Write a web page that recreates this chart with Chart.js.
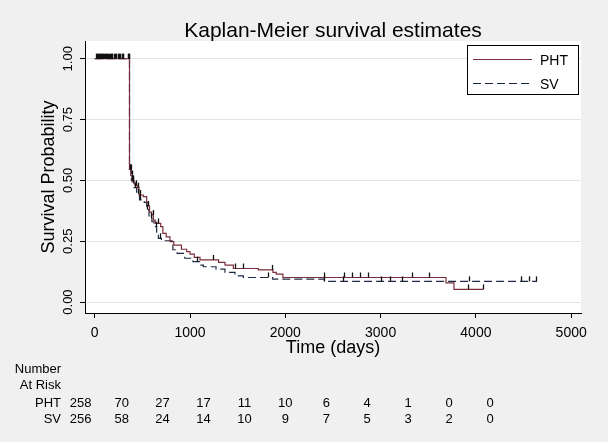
<!DOCTYPE html>
<html>
<head>
<meta charset="utf-8">
<script src="https://cdn.jsdelivr.net/npm/chart.js@4.4.1/dist/chart.umd.min.js"></script>
<style>
  html, body { margin: 0; padding: 0; background: #f0f0f0; }
</style>
</head>
<body>
<canvas id="km" width="608" height="442"></canvas>
<script>
// Kaplan-Meier steps: time (days) and survival after that time
const phtTimes = [0, 365, 378, 392, 420, 445, 465, 510, 545, 560, 575, 598, 615, 635, 692, 715, 750, 790, 830, 910, 965, 1000, 1045, 1105, 1300, 1367, 1455, 1717, 1870, 1905, 1975, 3686, 3770, 4078];
const phtSurv = [1.0, 0.545, 0.52, 0.494, 0.48, 0.47, 0.44, 0.433, 0.41, 0.395, 0.37, 0.358, 0.337, 0.323, 0.31, 0.282, 0.268, 0.248, 0.234, 0.217, 0.207, 0.197, 0.184, 0.173, 0.163, 0.152, 0.138, 0.132, 0.122, 0.115, 0.101, 0.079, 0.052, 0.052];

const svTimes = [0, 365, 385, 410, 440, 470, 520, 545, 570, 600, 622, 650, 668, 700, 820, 865, 945, 1030, 1100, 1140, 1273, 1367, 1472, 1560, 1868, 2409, 4640];
const svSurv = [1.0, 0.545, 0.5, 0.47, 0.445, 0.42, 0.41, 0.38, 0.345, 0.33, 0.31, 0.275, 0.262, 0.252, 0.215, 0.2, 0.18, 0.166, 0.152, 0.145, 0.135, 0.122, 0.108, 0.101, 0.094, 0.085, 0.085];

// censoring times
const phtCensor = [15, 25, 40, 55, 70, 85, 100, 115, 130, 145, 170, 180, 215, 225, 255, 265, 290, 300, 345, 360,
  372, 388, 400, 430, 452, 470, 560, 612, 660, 1245, 1472, 1553, 1860, 2409, 2619, 2700, 2787, 2871, 3326, 3511, 3920, 4078];
const svCensor = [20, 35, 50, 62, 78, 92, 108, 122, 138, 165, 175, 185, 205, 220, 248, 260, 285, 295, 350, 362,
  370, 382, 395, 405, 425, 455, 480, 548, 590, 640, 690, 1077, 1822, 2409, 2602, 3001, 3098, 3221, 3927, 4470, 4560, 4631];

const xTickValues = [0, 1000, 2000, 3000, 4000, 5000];
const yTickValues = [0, 0.25, 0.5, 0.75, 1];
const yTickLabels = ['0.00', '0.25', '0.50', '0.75', '1.00'];

// number at risk
const atRiskTimes = [0, 500, 1000, 1500, 2000, 2500, 3000, 3500, 4000, 4500, 5000];
const phtAtRisk = [258, 70, 27, 17, 11, 10, 6, 4, 1, 0, 0];
const svAtRisk = [256, 58, 24, 14, 10, 9, 7, 5, 3, 2, 0];

const PHT_COLOR = '#7a2e3b';
const SV_COLOR = '#1b2a40';
const FONT = '"Liberation Sans", Arial, sans-serif';

function toPoints(times, surv) {
  return times.map((t, i) => ({ x: t, y: surv[i] }));
}

function survAt(times, surv, t) {
  let s = surv[0];
  for (let i = 0; i < times.length; i++) {
    if (times[i] <= t) s = surv[i];
  }
  return s;
}

function txt(ctx, s, x, y, size, align, base, rot) {
  ctx.save();
  ctx.translate(x, y);
  if (rot) ctx.rotate(rot);
  ctx.font = size + 'px ' + FONT;
  ctx.textAlign = align;
  ctx.textBaseline = base;
  ctx.fillStyle = '#000';
  ctx.fillText(s, 0, 0);
  ctx.restore();
}

const decor = {
  id: 'decor',
  beforeDraw(chart) {
    const { ctx, chartArea: a } = chart;
    ctx.save();
    ctx.fillStyle = '#f0f0f0';
    ctx.fillRect(0, 0, chart.width, chart.height);
    ctx.fillStyle = '#ffffff';
    ctx.fillRect(a.left, a.top, a.right - a.left, a.bottom - a.top);
    ctx.restore();
  },
  afterDatasetsDraw(chart) {
    const { ctx, scales: { x, y } } = chart;
    const groups = [[phtTimes, phtSurv, phtCensor], [svTimes, svSurv, svCensor]];
    ctx.save();
    ctx.strokeStyle = '#111';
    ctx.lineWidth = 1.3;
    groups.forEach(([times, surv, cens]) => {
      cens.forEach(t => {
        const px = Math.round(x.getPixelForValue(t)) + 0.5;
        const py = y.getPixelForValue(survAt(times, surv, t));
        ctx.beginPath();
        ctx.moveTo(px, py);
        ctx.lineTo(px, py - 5);
        ctx.stroke();
      });
    });
    ctx.restore();
  },
  afterDraw(chart) {
    const { ctx, chartArea: a, scales: { x, y } } = chart;
    const cx = (a.left + a.right) / 2;
    txt(ctx, 'Kaplan-Meier survival estimates', cx, 36.5, 21, 'center', 'alphabetic');

    yTickValues.forEach((v, i) => {
      txt(ctx, yTickLabels[i], 72, y.getPixelForValue(v), 13, 'center', 'alphabetic', -Math.PI / 2);
    });
    txt(ctx, 'Survival Probability', 54, (a.top + a.bottom) / 2, 18, 'center', 'alphabetic', -Math.PI / 2);

    xTickValues.forEach(v => {
      txt(ctx, String(v), x.getPixelForValue(v), 336.5, 14, 'center', 'alphabetic');
    });
    txt(ctx, 'Time (days)', cx, 352.5, 18, 'center', 'alphabetic');

    // legend
    const lx = 467, ly = 45, lw = 111, lh = 49;
    ctx.save();
    ctx.fillStyle = '#fff';
    ctx.fillRect(lx, ly, lw, lh);
    ctx.strokeStyle = '#000';
    ctx.lineWidth = 1;
    ctx.strokeRect(lx + 0.5, ly + 0.5, lw, lh);
    chart.data.datasets.forEach((ds, i) => {
      const yy = ly + 14.5 + i * 24;
      ctx.strokeStyle = ds.borderColor;
      ctx.lineWidth = 1;
      ctx.setLineDash(ds.borderDash || []);
      ctx.beginPath();
      ctx.moveTo(lx + 6, yy);
      ctx.lineTo(lx + 65, yy);
      ctx.stroke();
      ctx.setLineDash([]);
      txt(ctx, ds.label, lx + 73, yy + 5, 14, 'left', 'alphabetic');
    });
    ctx.restore();

    // number at risk table
    txt(ctx, 'Number', 61, 372.7, 13, 'right', 'alphabetic');
    txt(ctx, 'At Risk', 61, 389, 13, 'right', 'alphabetic');
    const rows = [['PHT', phtAtRisk, 406.7], ['SV', svAtRisk, 423]];
    rows.forEach(([name, vals, by]) => {
      txt(ctx, name, 61, by, 13, 'right', 'alphabetic');
      vals.forEach((n, i) => {
        txt(ctx, String(n), 80.7 + i * 40.93, by, 13, 'center', 'alphabetic');
      });
    });
  }
};

new Chart(document.getElementById('km'), {
  type: 'line',
  data: {
    datasets: [
      {
        label: 'PHT',
        data: toPoints(phtTimes, phtSurv),
        borderColor: PHT_COLOR,
        borderWidth: 1.2,
        stepped: 'before',
        pointRadius: 0,
        fill: false
      },
      {
        label: 'SV',
        data: toPoints(svTimes, svSurv),
        borderColor: SV_COLOR,
        borderWidth: 1.2,
        borderDash: [8, 4],
        stepped: 'before',
        pointRadius: 0,
        fill: false
      }
    ]
  },
  options: {
    responsive: false,
    animation: false,
    layout: { padding: { top: 41, right: 27, bottom: 0, left: 0 } },
    scales: {
      x: {
        type: 'linear',
        min: -102,
        max: 5103,
        afterBuildTicks: s => { s.ticks = xTickValues.map(v => ({ value: v })); },
        afterFit: s => { s.height = 129; },
        ticks: { display: false },
        grid: { drawOnChartArea: false, drawTicks: true, tickLength: 5, tickColor: '#000' },
        border: { color: '#000', width: 1 }
      },
      y: {
        type: 'linear',
        min: -0.045,
        max: 1.073,
        afterBuildTicks: s => { s.ticks = yTickValues.map(v => ({ value: v })); },
        afterFit: s => { s.width = 85; },
        ticks: { display: false },
        grid: { color: '#e4e4e4', lineWidth: 1, drawTicks: true, tickLength: 5, tickColor: '#000' },
        border: { color: '#000', width: 1 }
      }
    },
    plugins: {
      legend: { display: false },
      tooltip: { enabled: false },
      title: { display: false }
    }
  },
  plugins: [decor]
});
</script>
</body>
</html>
